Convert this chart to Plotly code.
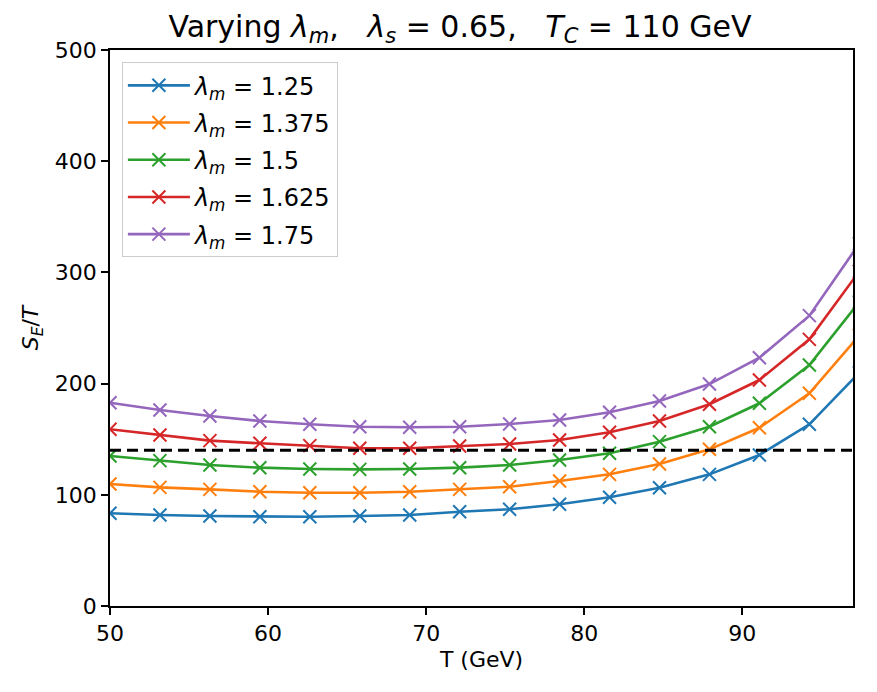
import plotly.graph_objects as go

T = [50.0, 53.16, 56.32, 59.48, 62.64, 65.8, 68.96, 72.12, 75.28, 78.44, 81.6, 84.76, 87.92, 91.08, 94.24, 97.4]

lam_125 = [83.4, 81.8, 80.9, 80.3, 80.3, 80.9, 81.8, 84.8, 87.0, 91.5, 97.8, 106.4, 118.4, 135.8, 163.4, 209.8]
lam_1375 = [109.7, 106.7, 104.9, 102.8, 101.9, 101.9, 102.8, 104.9, 107.3, 112.4, 118.4, 127.7, 140.9, 160.3, 191.3, 243.4]
lam_15 = [134.9, 130.7, 126.8, 124.4, 123.2, 122.9, 123.2, 124.4, 126.8, 131.3, 137.3, 147.8, 161.2, 182.3, 216.7, 273.4]
lam_1625 = [158.9, 153.8, 148.7, 146.3, 144.2, 141.8, 141.8, 143.9, 145.7, 149.3, 156.2, 166.4, 181.4, 203.2, 239.8, 301.0]
lam_175 = [182.8, 176.3, 170.9, 166.4, 163.4, 161.2, 160.7, 161.2, 163.7, 167.3, 174.2, 184.4, 199.6, 223.3, 261.1, 326.0]

labels = ["1.25", "1.375", "1.5", "1.625", "1.75"]
series = [lam_125, lam_1375, lam_15, lam_1625, lam_175]
colors = ["#1f77b4", "#ff7f0e", "#2ca02c", "#d62728", "#9467bd"]

THRESHOLD = 140
X_RANGE = [50, 97]
Y_RANGE = [0, 500]
X_TICKS = [50, 60, 70, 80, 90]
Y_TICKS = [0, 100, 200, 300, 400, 500]

FONT = "DejaVu Sans"
NB = "\u00a0"

fig = go.Figure()
for lab, ys, c in zip(labels, series, colors):
    fig.add_trace(go.Scatter(
        x=T, y=ys, mode="lines+markers",
        name=f"<i>λ<sub>m</sub></i> = {lab}",
        legendgroup=lab,
        line=dict(color=c, width=2.6),
        marker=dict(symbol="x-thin", size=13, line=dict(color=c, width=2)),
        cliponaxis=True,
    ))

fig.add_shape(type="line", xref="paper", yref="y", x0=0, x1=1, y0=THRESHOLD, y1=THRESHOLD,
              line=dict(color="black", width=3, dash="11px,6px"))

title_text = (f"Varying <i>λ<sub>m</sub></i>,{NB*3}<i>λ<sub>s</sub></i> = 0.65,"
              f"{NB*3}<i>T<sub>C</sub></i> = 110 GeV")

fig.update_layout(
    width=877, height=692,
    margin=dict(l=110, r=24, t=50, b=86),
    paper_bgcolor="white", plot_bgcolor="white",
    font=dict(family=FONT, size=22, color="black"),
    title=dict(
        text=title_text,
        x=0.5245, xanchor="center", y=0.962, yanchor="middle",
        font=dict(family=FONT, size=30, color="black"),
    ),
    legend=dict(
        x=0.016, y=0.978, xanchor="left", yanchor="top",
        bgcolor="white", bordercolor="#cccccc", borderwidth=1,
        font=dict(family=FONT, size=24),
        tracegroupgap=3, itemwidth=62,
    ),
    showlegend=True,
)

fig.update_xaxes(
    range=X_RANGE, tickvals=X_TICKS, ticks="outside", ticklen=7, tickwidth=1.5,
    tickcolor="black", showline=True, linecolor="black", linewidth=1.5, mirror=True,
    showgrid=False, zeroline=False, tickfont=dict(size=22),
    title=dict(text="T (GeV)", font=dict(size=22), standoff=6),
)
fig.update_yaxes(
    range=Y_RANGE, tickvals=Y_TICKS, ticks="outside", ticklen=7, tickwidth=1.5,
    tickcolor="black", showline=True, linecolor="black", linewidth=1.5, mirror=True,
    showgrid=False, zeroline=False, tickfont=dict(size=22),
    title=dict(text="<i>S<sub>E</sub></i>/<i>T</i>", font=dict(size=22), standoff=10),
)

fig.write_html("out.html")
